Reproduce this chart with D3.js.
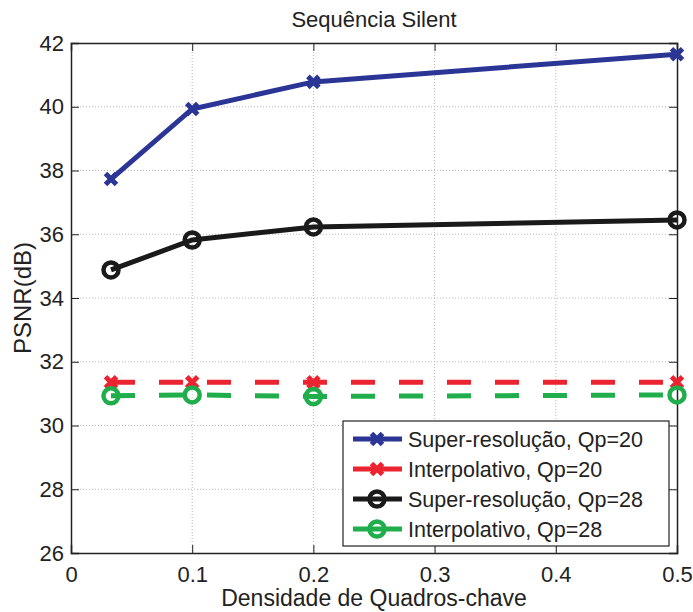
<!DOCTYPE html>
<html lang="en">
<head>
  <meta charset="UTF-8">
  <title>Sequência Silent</title>
  <script src="https://d3js.org/d3.v7.min.js"></script>
  <style>
    body { margin: 0; padding: 0; background: white; }
    svg { font-family: "Liberation Sans", Arial, sans-serif; }
  </style>
</head>
<body>
  <svg id="chart" width="693" height="612"></svg>

  <script>
    // Data
    const density = [0.033, 0.1, 0.2, 0.5];
    const superRes20 = [37.73, 39.93, 40.78, 41.65];
    const interp20 = [31.36, 31.36, 31.36, 31.36];
    const superRes28 = [34.88, 35.82, 36.23, 36.45];
    const interp28 = [30.93, 30.96, 30.91, 30.96];
    const xTicks = [0, 0.1, 0.2, 0.3, 0.4, 0.5];
    const yTicks = [26, 28, 30, 32, 34, 36, 38, 40, 42];

    const series = [
      { name: "Super-resolução, Qp=20", values: superRes20, color: "#2b3595", marker: "x", dash: null },
      { name: "Interpolativo, Qp=20", values: interp20, color: "#ec2330", marker: "x", dash: "24,24" },
      { name: "Super-resolução, Qp=28", values: superRes28, color: "#1a1a1a", marker: "o", dash: null },
      { name: "Interpolativo, Qp=28", values: interp28, color: "#1fae4b", marker: "o", dash: "24,24" }
    ];

    const svg = d3.select("#chart");
    const margin = { left: 71, top: 43, right: 16, bottom: 59 };
    const width = 693 - margin.left - margin.right;
    const height = 612 - margin.top - margin.bottom;

    const x = d3.scaleLinear().domain([0, 0.5]).range([0, width]);
    const y = d3.scaleLinear().domain([26, 42]).range([height, 0]);

    const g = svg.append("g").attr("transform", `translate(${margin.left},${margin.top})`);

    // dotted grid
    g.append("g").selectAll("line").data(xTicks.slice(1, -1)).join("line")
      .attr("x1", d => x(d)).attr("x2", d => x(d)).attr("y1", 0).attr("y2", height)
      .attr("stroke", "#b8b8b8").attr("stroke-width", 1).attr("stroke-dasharray", "1,2");
    g.append("g").selectAll("line").data(yTicks.slice(1, -1)).join("line")
      .attr("x1", 0).attr("x2", width).attr("y1", d => y(d)).attr("y2", d => y(d))
      .attr("stroke", "#b8b8b8").attr("stroke-width", 1).attr("stroke-dasharray", "1,2");

    // axes (ticks pointing inward, box around)
    const tickSize = 8;
    g.append("g").attr("transform", `translate(0,${height})`)
      .call(d3.axisBottom(x).tickValues(xTicks).tickFormat(d3.format("")).tickSize(-tickSize).tickPadding(13));
    g.append("g")
      .call(d3.axisLeft(y).tickValues(yTicks).tickSize(-tickSize).tickPadding(7));
    g.append("g").call(d3.axisTop(x).tickValues(xTicks).tickFormat("").tickSize(-tickSize));
    g.append("g").attr("transform", `translate(${width},0)`)
      .call(d3.axisRight(y).tickValues(yTicks).tickFormat("").tickSize(-tickSize));
    g.selectAll(".domain").attr("stroke", "#222").attr("stroke-width", 1.5);
    g.selectAll(".tick line").attr("stroke", "#222").attr("stroke-width", 1);
    g.selectAll(".tick text").attr("font-size", 22).attr("fill", "#222")
      .attr("font-family", "'Liberation Sans', Arial, sans-serif");

    // lines
    const line = d3.line().x((d, i) => x(density[i])).y(d => y(d));
    series.forEach(s => {
      g.append("path").datum(s.values)
        .attr("d", line)
        .attr("fill", "none")
        .attr("stroke", s.color)
        .attr("stroke-width", 5)
        .attr("stroke-dasharray", s.dash);
    });

    function drawMarker(sel, type, color, cx, cy) {
      if (type === "x") {
        const r = 5.5;
        sel.append("path")
          .attr("d", `M${cx - r},${cy - r}L${cx + r},${cy + r}M${cx - r},${cy + r}L${cx + r},${cy - r}`)
          .attr("stroke", color).attr("stroke-width", 5).attr("fill", "none");
      } else {
        sel.append("circle").attr("cx", cx).attr("cy", cy).attr("r", 7.5)
          .attr("fill", "none").attr("stroke", color).attr("stroke-width", 4.5);
      }
    }

    series.forEach(s => {
      s.values.forEach((v, i) => drawMarker(g, s.marker, s.color, x(density[i]), y(v)));
    });

    // legend
    const lg = svg.append("g").attr("transform", "translate(343,421)");
    lg.append("rect").attr("width", 326).attr("height", 125)
      .attr("fill", "white").attr("stroke", "#222").attr("stroke-width", 1.2);
    series.forEach((s, i) => {
      const ry = 18 + i * 30;
      lg.append("line").attr("x1", 10).attr("x2", 59).attr("y1", ry).attr("y2", ry)
        .attr("stroke", s.color).attr("stroke-width", 5);
      drawMarker(lg, s.marker, s.color, 34, ry);
      lg.append("text").attr("x", 65).attr("y", ry + 8)
        .attr("font-size", 21.5).attr("fill", "#222").text(s.name);
    });

    // titles
    svg.append("text").attr("x", margin.left + width / 2).attr("y", 27)
      .attr("text-anchor", "middle").attr("font-size", 22).attr("fill", "#222")
      .text("Sequência Silent");
    svg.append("text").attr("x", margin.left + width / 2).attr("y", 606)
      .attr("text-anchor", "middle").attr("font-size", 23).attr("fill", "#222")
      .text("Densidade de Quadros-chave");
    svg.append("text")
      .attr("transform", `translate(31,${margin.top + height / 2}) rotate(-90)`)
      .attr("text-anchor", "middle").attr("font-size", 24).attr("fill", "#222")
      .text("PSNR(dB)");
  </script>
</body>
</html>
